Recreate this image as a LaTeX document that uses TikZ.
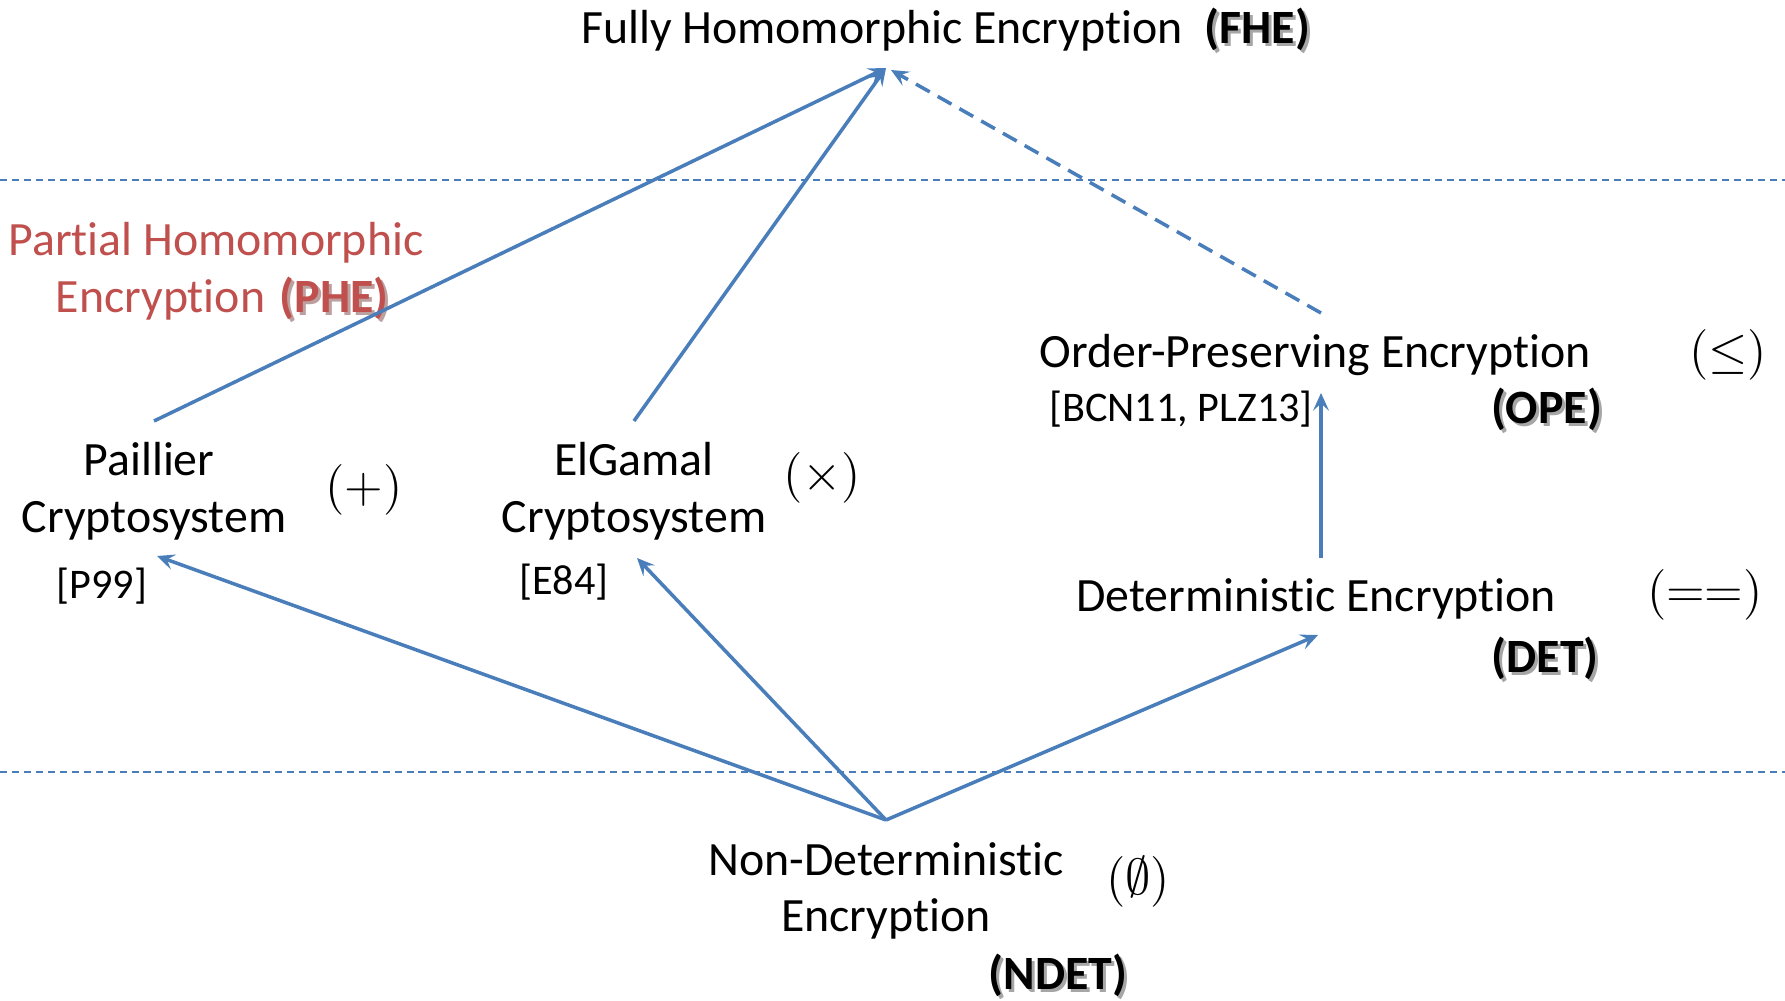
\documentclass[tikz,border=0pt]{standalone}
\usepackage{fontspec}
\setmainfont{Carlito}[Ligatures=NoCommon]
\usetikzlibrary{arrows.meta}
\definecolor{lineblue}{HTML}{4A7EBB}
\definecolor{phered}{HTML}{C0504D}
\begin{document}
\begin{tikzpicture}[x=0.01cm,y=-0.01cm,
  txt/.style={inner sep=0pt,anchor=base,font=\fontsize{13.6pt}{16.2pt}\selectfont},
  cite/.style={txt,font=\fontsize{12pt}{14pt}\selectfont},
  tag/.style={txt,anchor=base west,font=\fontsize{13.6pt}{16.2pt}\selectfont\bfseries},
  tagshadow/.style={tag,text=black!35},
  sym/.style={inner sep=0pt,anchor=center,font=\fontsize{13.6pt}{16pt}\selectfont},
  conn/.style={draw=lineblue,line width=1pt,-{Stealth[length=5pt,width=4.5pt,inset=2pt]}},
  dconn/.style={conn,dash pattern=on 4.5pt off 2.6pt},
  band/.style={draw=lineblue,line width=0.5pt,dash pattern=on 2pt off 1.4pt}]
\useasboundingbox (0,0) rectangle (1785,1000);
% band separators
\coordinate (bandAL) at (0,180);   \coordinate (bandAR) at (1785,180);
\coordinate (bandBL) at (0,772);   \coordinate (bandBR) at (1785,772);
\draw[band] (bandAL) -- (bandAR);
\draw[band] (bandBL) -- (bandBR);
% FHE
\node[txt] (fhe) at (882,44) {Fully Homomorphic Encryption};
\node[tagshadow] (fheS) at (1207,47) {(FHE)};
\node[tag] (fheT) at (1204,44) {(FHE)};
% PHE label
\node[txt,text=phered] (phe1) at (216,255) {Partial Homomorphic};
\node[txt,text=phered,anchor=base east] (phe2) at (266,312) {Encryption};
\node[tagshadow,text=phered!55!black!45] (pheS) at (282,315) {(PHE)};
\node[tag,text=phered] (pheT) at (279,312) {(PHE)};
% Paillier
\node[txt] (pai1) at (149,475) {Paillier};
\node[txt] (pai2) at (154,532) {Cryptosystem};
\node[cite] (paiRef) at (102,598) {[P99]};
\node[sym] (paiSym) at (364,490) {$(+)$};
% ElGamal
\node[txt] (elg1) at (634,475) {ElGamal};
\node[txt] (elg2) at (634,532) {Cryptosystem};
\node[cite] (elgRef) at (564,594) {[E84]};
\node[sym] (elgSym) at (822,478) {$(\times)$};
% OPE
\node[txt] (ope) at (1315,367) {Order-Preserving Encryption};
\node[cite] (opeRef) at (1181,421) {[BCN11, PLZ13]};
\node[tagshadow] (opeS) at (1494,426) {(OPE)};
\node[tag] (opeT) at (1491,423) {(OPE)};
\node[sym] (opeSym) at (1728,355) {$(\leq)$};
% DET
\node[txt] (det) at (1316,611) {Deterministic Encryption};
\node[tagshadow] (detS) at (1494,675) {(DET)};
\node[tag] (detT) at (1491,672) {(DET)};
\node[sym] (detSym) at (1705,595) {$(==)$};
% NDET
\node[txt] (ndet1) at (886,875) {Non-Deterministic};
\node[txt] (ndet2) at (886,931) {Encryption};
\node[tagshadow] (ndetS) at (991,992) {(NDET)};
\node[tag] (ndetT) at (988,989) {(NDET)};
\node[sym] (ndetSym) at (1138,882) {$(\emptyset)$};
% connector ends
\coordinate (fheIn) at (886,68);
\coordinate (fheInR) at (891,70);
\coordinate (paiOut) at (154,421);
\coordinate (paiIn) at (157,556);
\coordinate (elgOut) at (634,421);
\coordinate (elgIn) at (637,558);
\coordinate (opeOut) at (1321,313);
\coordinate (opeIn) at (1321,393);
\coordinate (detOut) at (1321,558);
\coordinate (detIn) at (1318,635);
\coordinate (ndetOut) at (886,820);
% connectors
\draw[conn] (paiOut) -- (fheIn);
\draw[conn] (elgOut) -- (fheIn);
\draw[dconn] (opeOut) -- (fheInR);
\draw[conn] (detOut) -- (opeIn);
\draw[conn] (ndetOut) -- (paiIn);
\draw[conn] (ndetOut) -- (elgIn);
\draw[conn] (ndetOut) -- (detIn);
\end{tikzpicture}
\end{document}
